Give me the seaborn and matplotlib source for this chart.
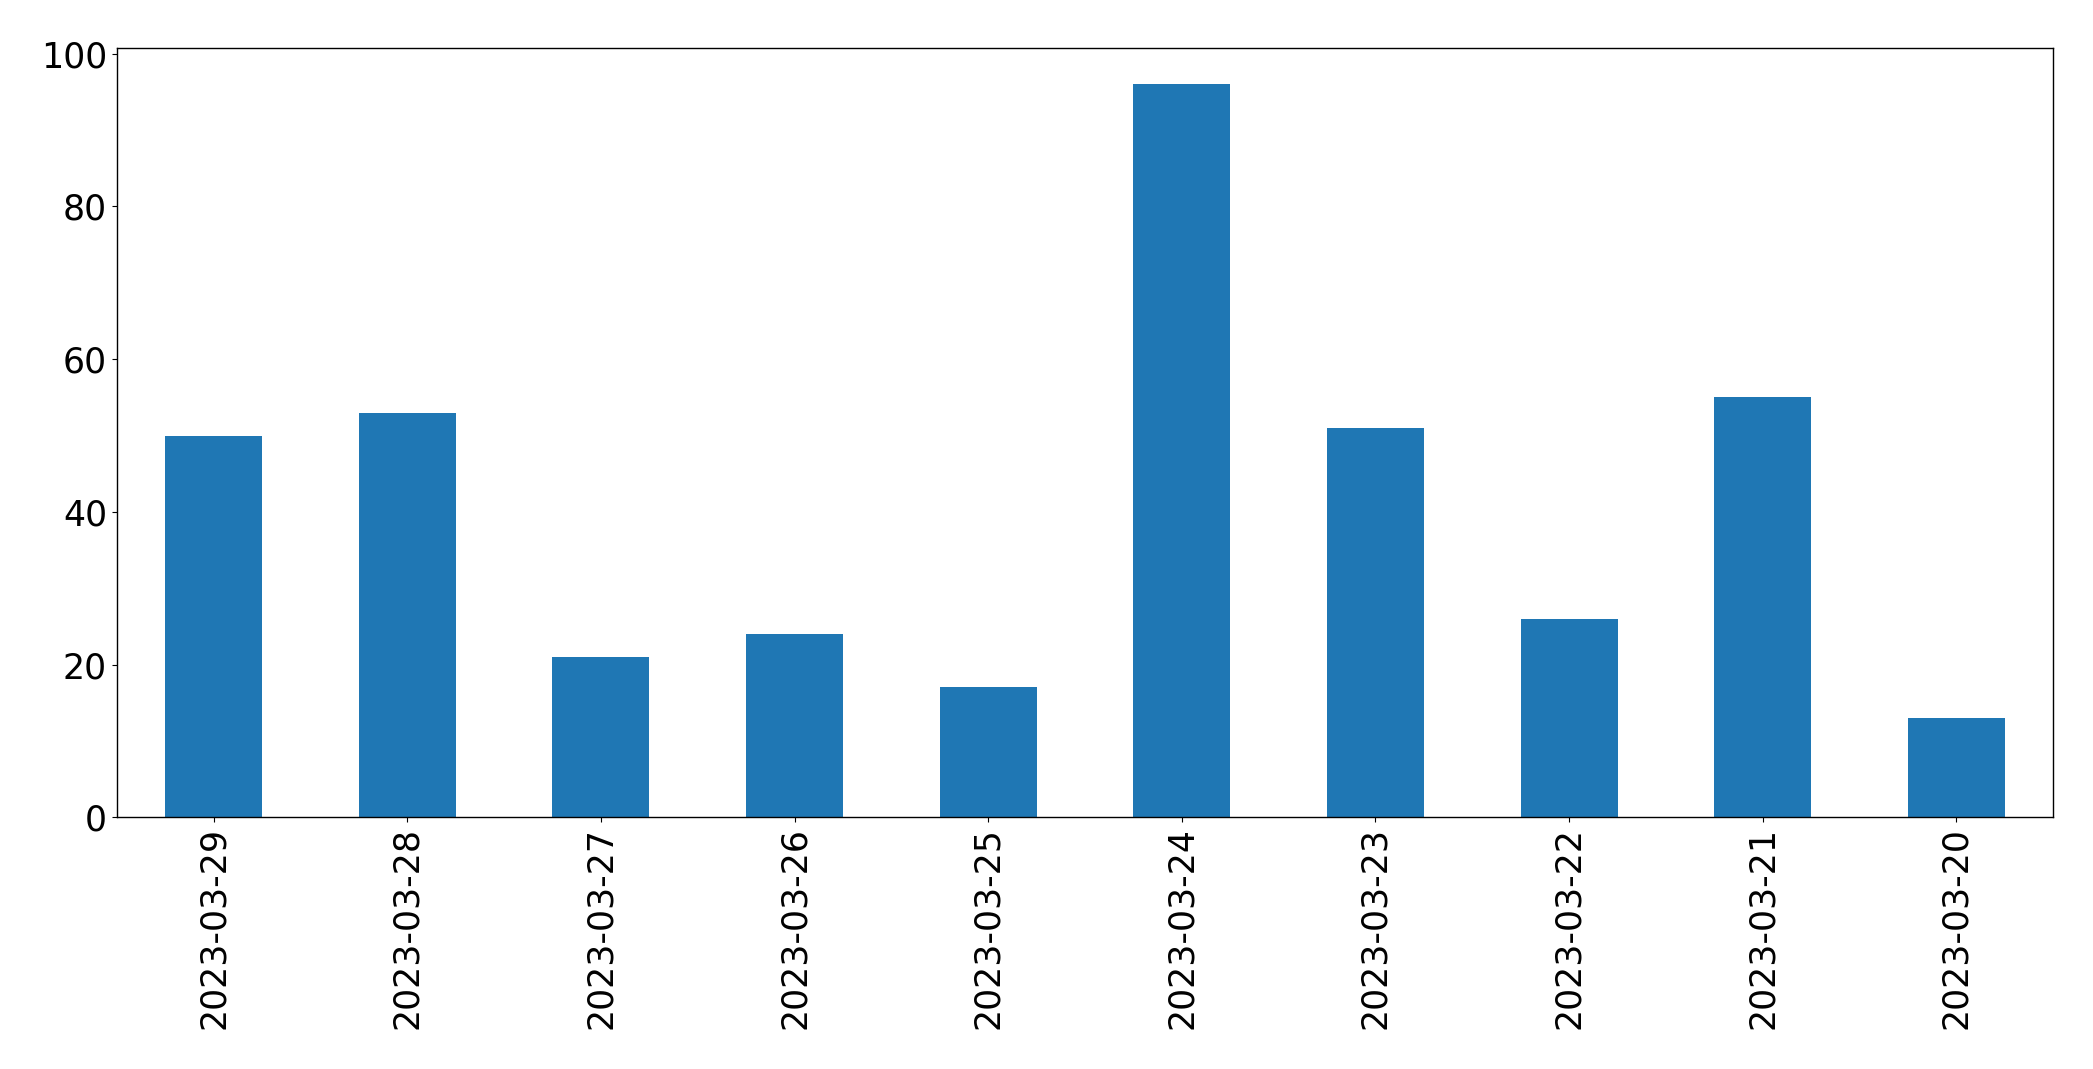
import matplotlib
matplotlib.use("Agg")
import matplotlib.pyplot as plt
import seaborn as sns
import pandas as pd

dates = ["2023-03-29", "2023-03-28", "2023-03-27", "2023-03-26", "2023-03-25",
         "2023-03-24", "2023-03-23", "2023-03-22", "2023-03-21", "2023-03-20"]
counts = [50, 53, 21, 24, 17, 96, 51, 26, 55, 13]

df = pd.DataFrame({"date": dates, "count": counts})

fig = plt.figure(figsize=(20.93, 10.69), dpi=100)
ax = fig.add_axes([0.0558, 0.2355, 0.9252, 0.7199])
sns.barplot(data=df, x="date", y="count", order=dates, color="#1f77b4",
            saturation=1, width=0.5, linewidth=0, ax=ax)
ax.set_xlim(-0.5, len(dates) - 0.5)
ax.set_ylim(0, max(counts) * 1.05)
ax.set_yticks([0, 20, 40, 60, 80, 100])
ax.set_xlabel("")
ax.set_ylabel("")
for s in ax.spines.values():
    s.set_color("black")
    s.set_linewidth(1.0)
ax.tick_params(axis="both", labelsize=25, color="black", labelcolor="black")
plt.setp(ax.get_xticklabels(), rotation=90)
fig.savefig("out.png", dpi=100)
